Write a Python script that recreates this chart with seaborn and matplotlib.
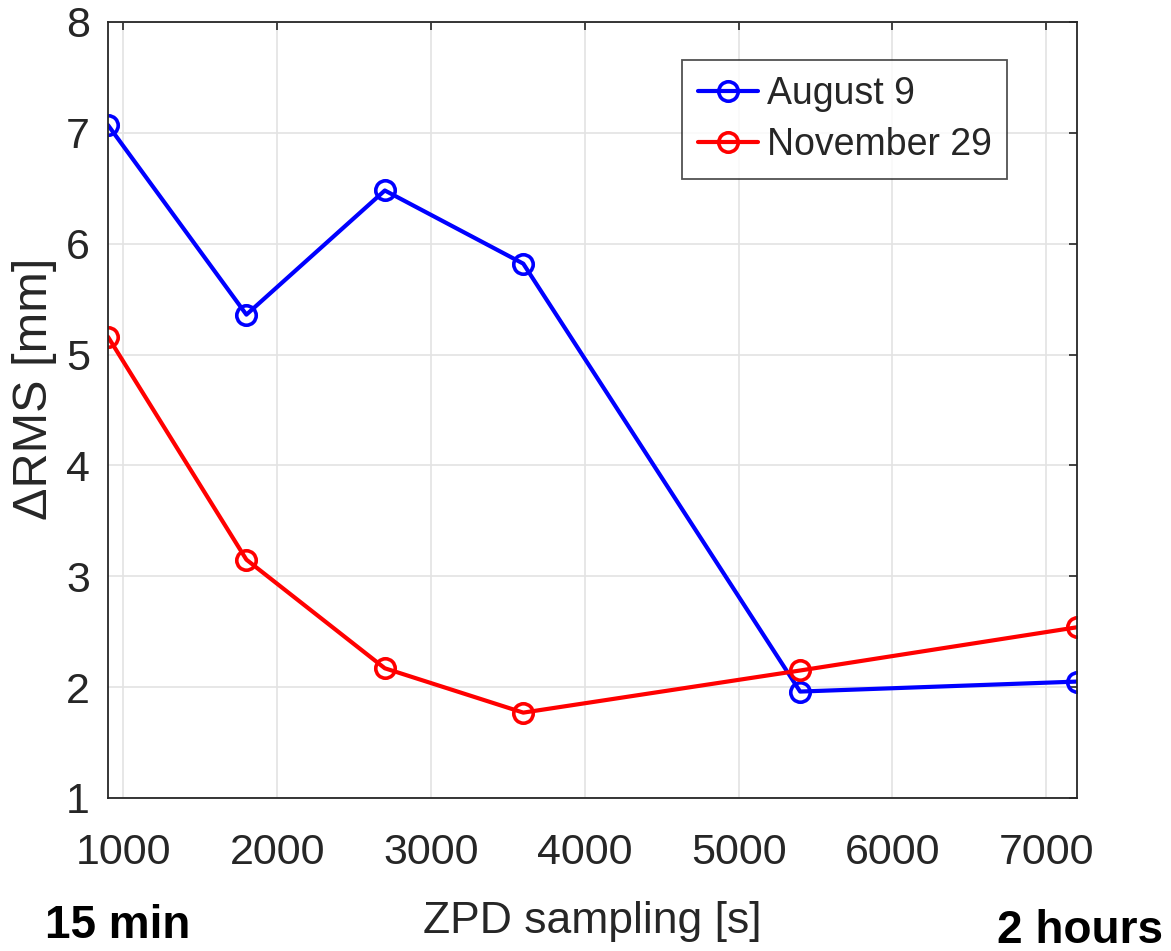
import matplotlib
matplotlib.use("Agg")
import matplotlib.pyplot as plt
import seaborn as sns
import pandas as pd

sampling = [900, 1800, 2700, 3600, 5400, 7200]
august9 = [7.07, 5.36, 6.48, 5.82, 1.96, 2.05]
november29 = [5.16, 3.15, 2.17, 1.77, 2.15, 2.54]
series_names = ["August 9", "November 29"]
colors = ["#0000ff", "#ff0000"]
xticks = [1000, 2000, 3000, 4000, 5000, 6000, 7000]
yticks = [1, 2, 3, 4, 5, 6, 7, 8]

sns.set_style("white")
plt.rcParams["font.family"] = ["Liberation Sans", "DejaVu Sans"]

fig = plt.figure(figsize=(11.71, 9.51), dpi=100)
ax = fig.add_axes([0.0922, 0.1609, 0.8275, 0.8160])

for name, vals, col in zip(series_names, [august9, november29], colors):
    df = pd.DataFrame({"x": sampling, "y": vals})
    sns.lineplot(data=df, x="x", y="y", ax=ax, color=col, lw=3.0,
                 marker="o", markersize=14, markerfacecolor="none",
                 markeredgecolor=col, markeredgewidth=2.6, label=name)

ax.set_xlim(900, 7200)
ax.set_ylim(1, 8)
ax.set_xticks(xticks)
ax.set_yticks(yticks)
ax.grid(True, color="#e3e3e3", lw=1.2)
for s in ax.spines.values():
    s.set_color("#262626")
    s.set_linewidth(1.3)
ax.tick_params(direction="in", length=6, width=1.2, colors="#262626",
               labelsize=31, top=True, right=True, labelcolor="#262626")
ax.tick_params(axis="x", pad=25)
ax.tick_params(axis="y", pad=13)
ax.set_xlabel("ZPD sampling [s]", fontsize=32, color="#262626")
ax.set_ylabel("ΔRMS [mm]", fontsize=35, color="#262626")
ax.xaxis.set_label_coords(0.5, -0.133)
ax.yaxis.set_label_coords(-0.053, 0.527)

leg = ax.legend(loc="upper right", bbox_to_anchor=(0.928, 0.951), fontsize=27,
                frameon=True, fancybox=False, edgecolor="#262626",
                handlelength=1.6, handletextpad=0.24, borderpad=0.42,
                labelspacing=0.42, borderaxespad=0)
leg.get_frame().set_linewidth(1.3)

fig.text(45 / 1171, 1 - 938 / 951, "15 min", fontsize=33, fontweight="bold",
         ha="left", va="baseline", color="black")
fig.text(1163 / 1171, 1 - 943 / 951, "2 hours", fontsize=33, fontweight="bold",
         ha="right", va="baseline", color="black")

fig.savefig("out.png", dpi=100, facecolor="white")
